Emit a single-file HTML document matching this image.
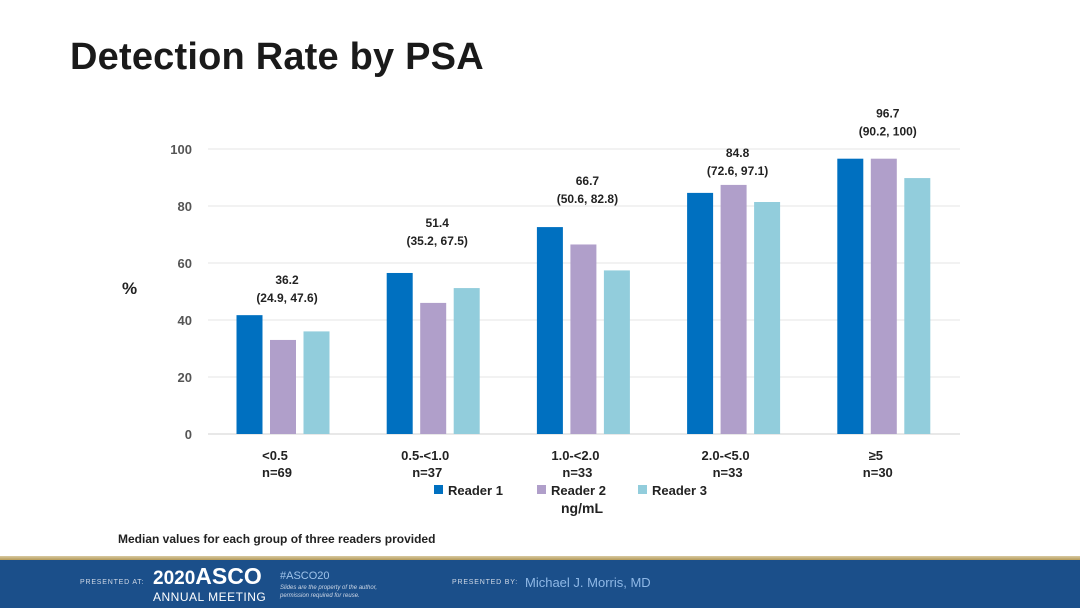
<!DOCTYPE html>
<html><head><meta charset="utf-8"><style>
body{margin:0;width:1080px;height:608px;overflow:hidden;background:#fff;font-family:"Liberation Sans",sans-serif;position:relative}
.t{position:absolute;white-space:nowrap}
</style></head><body>
<div class="t" style="left:70px;top:36px;font-size:38px;font-weight:bold;color:#1a1a1a;letter-spacing:0.2px">Detection Rate by PSA</div>
<svg id="c" width="1080" height="540" style="position:absolute;left:0;top:0" font-family="Liberation Sans, sans-serif"></svg>
<div class="t" style="left:118px;top:532px;font-size:12px;font-weight:bold;color:#222">Median values for each group of three readers provided</div>
<div style="position:absolute;left:0;top:556px;width:1080px;height:4px;background:linear-gradient(#d8c9a0,#b59a5a)"></div>
<div style="position:absolute;left:0;top:560px;width:1080px;height:48px;background:#1b4f8a"></div>
<div class="t" style="left:80px;top:579px;font-size:7px;color:#cfd8e6;letter-spacing:0.8px">PRESENTED AT:</div>
<div class="t" style="left:153px;top:566px;font-size:19px;color:#fff;font-weight:bold;line-height:20px">2020<span style="font-size:23px">ASCO</span><br><span style="font-size:12px;font-weight:normal;letter-spacing:.5px;line-height:12px;position:relative;top:-3px">ANNUAL MEETING</span></div>
<div class="t" style="left:280px;top:570px;font-size:11px;color:#9fc3ea">#ASCO20</div>
<div class="t" style="left:280px;top:584px;font-size:6px;color:#cfd8e6;font-style:italic;line-height:8px">Slides are the property of the author,<br>permission required for reuse.</div>
<div class="t" style="left:452px;top:579px;font-size:7px;color:#cfd8e6;letter-spacing:0.8px">PRESENTED BY:</div>
<div class="t" style="left:525px;top:575px;font-size:13px;color:#8fb8e6">Michael J. Morris, MD</div>
<script>
const categories=["<0.5","0.5-<1.0","1.0-<2.0","2.0-<5.0","≥5"];
const nLabels=["n=69","n=37","n=33","n=33","n=30"];
const reader1=[41.7,56.5,72.6,84.6,96.6];
const reader2=[33,46,66.5,87.4,96.6];
const reader3=[36,51.2,57.4,81.4,89.8];
const medians=["36.2","51.4","66.7","84.8","96.7"];
const ranges=["(24.9, 47.6)","(35.2, 67.5)","(50.6, 82.8)","(72.6, 97.1)","(90.2, 100)"];
const yTicks=[0,20,40,60,80,100];
const series=[reader1,reader2,reader3];
const colors=["#0070c0","#b09fca","#92cddc"];
const names=["Reader 1","Reader 2","Reader 3"];
const labelGap=[31,46,42,28,41];
const svg=document.getElementById('c');const NS="http://www.w3.org/2000/svg";
const y=v=>434-v*2.85;
const xc=i=>283+i*150.2;
function mk(t,a,txt){const e=document.createElementNS(NS,t);for(const k in a)e.setAttribute(k,a[k]);if(txt!==undefined)e.textContent=txt;svg.appendChild(e);return e;}
yTicks.forEach(v=>{
let l=mk('line',{x1:208,x2:960,y1:y(v),y2:y(v),stroke:v?'#e4e4e4':'#d0d0d0','stroke-width':1});


let t=mk('text',{x:192,y:y(v)+5,'text-anchor':'end','font-size':13,'font-weight':'bold',fill:'#555'},v);


});
let yt=mk('text',{x:122,y:294,'font-size':17,'font-weight':'bold',fill:'#222'},'%');


categories.forEach((c,i)=>{
series.forEach((s,j)=>{
const cx=xc(i)+(j-1)*33.5;
let r=mk('rect',{x:cx-13,y:y(s[i]),width:26,height:434-y(s[i]),fill:colors[j]});


});
const top=y(Math.max(reader1[i],reader2[i],reader3[i]));
let m=mk('text',{x:xc(i)+4,y:top-labelGap[i],'text-anchor':'middle','font-size':12,'font-weight':'bold',fill:'#222'},medians[i]);


let rg=mk('text',{x:xc(i)+4,y:top-labelGap[i]+18,'text-anchor':'middle','font-size':12,'font-weight':'bold',fill:'#222'},ranges[i]);


let cl=mk('text',{x:xc(i)-8,y:460,'text-anchor':'middle','font-size':13,'font-weight':'bold',fill:'#222'},c);


let nl=mk('text',{x:xc(i)-6,y:477,'text-anchor':'middle','font-size':13,'font-weight':'bold',fill:'#222'},nLabels[i]);


});
const lx=[434,537,638];
names.forEach((n,j)=>{
let r=mk('rect',{x:lx[j],y:485,width:9,height:9,fill:colors[j]});


let t=mk('text',{x:lx[j]+14,y:495,'font-size':13,'font-weight':'bold',fill:'#222'},n);


});
let xt=mk('text',{x:582,y:513,'text-anchor':'middle','font-size':14,'font-weight':'bold',fill:'#222'},'ng/mL');


</script>
</body></html>
